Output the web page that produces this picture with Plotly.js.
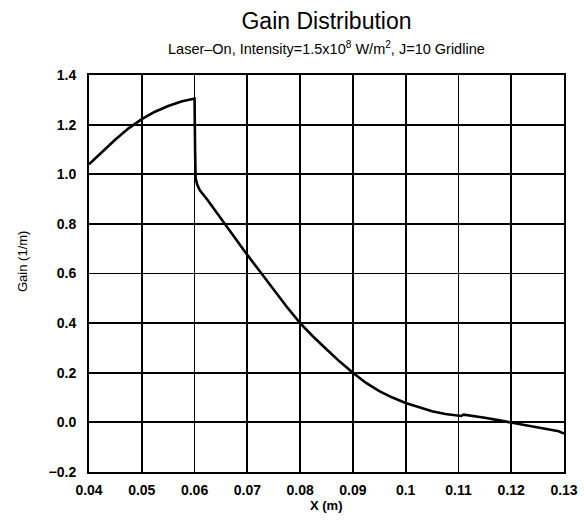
<!DOCTYPE html>
<html>
<head>
<meta charset="utf-8">
<script src="https://cdn.plot.ly/plotly-3.0.1.min.js"></script>
<style>html,body{margin:0;padding:0;background:#fff;}#chart{width:584px;height:521px;}</style>
</head>
<body>
<div id="chart"></div>
<script>
const xPos = [0.04, 0.0425, 0.045, 0.0475, 0.05, 0.0525, 0.055, 0.0575, 0.06, 0.0601, 0.0602, 0.0605, 0.061, 0.0625, 0.065, 0.0675, 0.07, 0.0725, 0.075, 0.0775, 0.08, 0.0825, 0.085, 0.0875, 0.09, 0.0925, 0.095, 0.0975, 0.1, 0.1025, 0.105, 0.1075, 0.11, 0.1105, 0.111, 0.1125, 0.115, 0.1175, 0.12, 0.1225, 0.125, 0.1275, 0.129, 0.13];
const gain = [1.040, 1.090, 1.140, 1.185, 1.222, 1.252, 1.275, 1.293, 1.305, 1.10, 0.985, 0.958, 0.935, 0.895, 0.820, 0.745, 0.675, 0.605, 0.535, 0.465, 0.400, 0.345, 0.295, 0.245, 0.200, 0.159, 0.126, 0.100, 0.078, 0.060, 0.045, 0.034, 0.025, 0.026, 0.031, 0.027, 0.019, 0.009, -0.001, -0.011, -0.020, -0.030, -0.036, -0.045];
const xTickVals = [0.04, 0.05, 0.06, 0.07, 0.08, 0.09, 0.10, 0.11, 0.12, 0.13];
const xTickText = ["0.04", "0.05", "0.06", "0.07", "0.08", "0.09", "0.1", "0.11", "0.12", "0.13"];
const yTickVals = [-0.2, 0.0, 0.2, 0.4, 0.6, 0.8, 1.0, 1.2, 1.4];
const yTickText = ["\u22120.2", "0.0", "0.2", "0.4", "0.6", "0.8", "1.0", "1.2", "1.4"];
const titleText = "Gain Distribution";
const subtitleText = "Laser\u2013On, Intensity=1.5x10<sup>8</sup> W/m<sup>2</sup>, J=10 Gridline";
const xLabel = "X (m)";
const yLabel = "Gain (1/m)";

const FONT = "Liberation Sans, Arial, Helvetica, sans-serif";

const trace = {
  x: xPos, y: gain, type: "scatter", mode: "lines",
  line: {color: "#000", width: 2.6, shape: "linear"},
  hoverinfo: "skip", showlegend: false
};

const axisCommon = {
  showline: true, linecolor: "#000", linewidth: 2, mirror: true,
  showgrid: true, gridcolor: "#000", gridwidth: 1.8,
  zeroline: false, ticks: "", tickmode: "array",
  tickfont: {family: FONT, size: 14, color: "#000", weight: "bold"}
};

const layout = {
  width: 584, height: 521,
  margin: {l: 89, r: 20, t: 75, b: 49},
  paper_bgcolor: "#fff", plot_bgcolor: "#fff",
  font: {family: FONT, color: "#000"},
  title: {text: titleText, font: {family: FONT, size: 23, color: "#000"},
          x: 0.5, xref: "paper", xanchor: "center", y: 1 - 21/521, yref: "container", yanchor: "middle"},
  xaxis: Object.assign({}, axisCommon, {range: [0.04, 0.13], tickvals: xTickVals, ticktext: xTickText, ticklabelstandoff: 4}),
  yaxis: Object.assign({}, axisCommon, {range: [-0.2, 1.4], tickvals: yTickVals, ticktext: yTickText, ticklabelstandoff: 8}),
  annotations: [
    {text: subtitleText, xref: "paper", yref: "paper", x: 0.5, y: (472-48)/397, xanchor: "center", yanchor: "middle",
     showarrow: false, font: {family: FONT, size: 14.5, color: "#000"}},
    {text: xLabel, xref: "paper", yref: "paper", x: 0.5, y: (472-505)/397, xanchor: "center", yanchor: "middle",
     showarrow: false, font: {family: FONT, size: 13, color: "#000", weight: "bold"}},
    {text: yLabel, xref: "paper", yref: "paper", x: (22-89)/475, y: (472-262)/397, xanchor: "center", yanchor: "middle",
     textangle: -90, showarrow: false, font: {family: FONT, size: 13, color: "#000"}}
  ]
};

Plotly.newPlot("chart", [trace], layout, {displayModeBar: false, staticPlot: true});
</script>
</body>
</html>
